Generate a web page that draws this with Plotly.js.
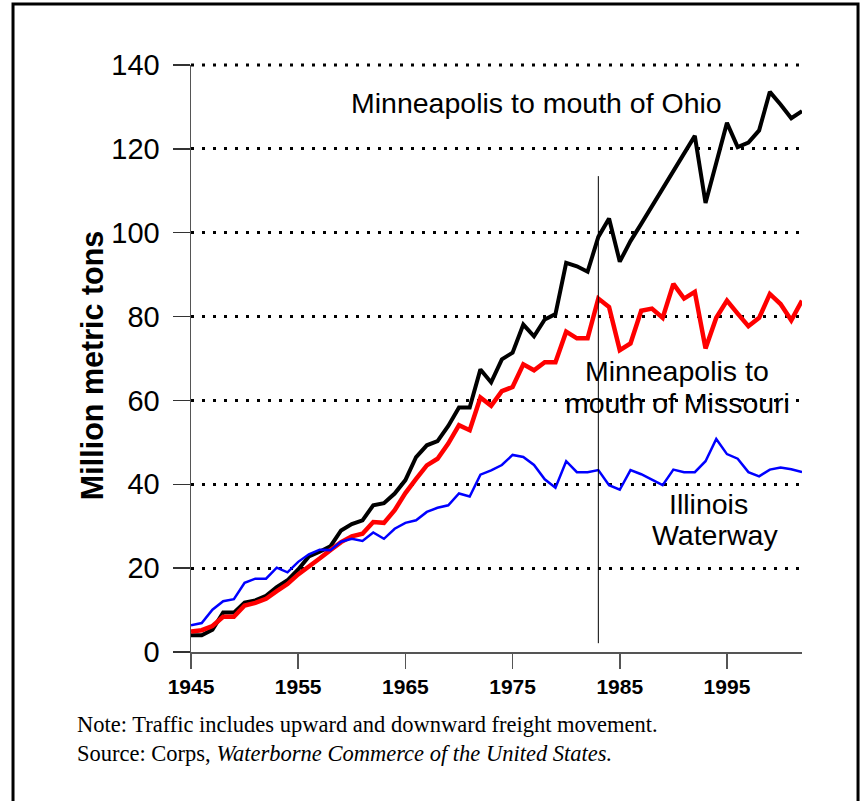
<!DOCTYPE html>
<html>
<head>
<meta charset="utf-8">
<script src="https://cdn.plot.ly/plotly-3.0.1.min.js"></script>
<style>
html,body{margin:0;padding:0;background:#fff;}
#chart{width:862px;height:801px;}
</style>
</head>
<body>
<div id="chart"></div>
<script>
const years = [1945,1946,1947,1948,1949,1950,1951,1952,1953,1954,1955,1956,1957,1958,1959,1960,1961,1962,1963,1964,1965,1966,1967,1968,1969,1970,1971,1972,1973,1974,1975,1976,1977,1978,1979,1980,1981,1982,1983,1984,1985,1986,1987,1988,1989,1990,1991,1992,1993,1994,1995,1996,1997,1998,1999,2000,2001,2002];

const ohio = [4.0,4.0,5.3,9.4,9.4,11.8,12.3,13.4,15.5,17.1,19.7,22.8,23.9,25.2,29.0,30.5,31.4,35.0,35.5,37.8,41.0,46.5,49.3,50.3,53.9,58.3,58.3,67.4,64.3,69.8,71.4,78.1,75.3,79.3,80.6,92.8,92.0,90.7,99.0,103.4,93.1,98.0,102.1,106.3,110.3,114.5,118.5,123.1,107.1,116.6,126.2,120.4,121.5,124.4,133.6,130.6,127.3,129.0];

const missouri = [4.9,5.2,6.2,8.4,8.4,11.1,11.7,12.7,14.5,16.2,18.5,20.3,22.3,24.3,26.2,27.6,28.2,31.0,30.8,33.8,37.9,41.3,44.5,46.1,49.7,54.1,52.9,60.7,58.7,62.2,63.2,68.6,67.2,69.1,69.1,76.4,74.8,74.8,84.3,82.3,72.0,73.6,81.4,81.9,79.7,87.8,84.3,85.9,72.4,79.7,83.8,80.7,77.7,79.7,85.4,83.0,79.1,83.8];

const illinois = [6.4,6.9,10.1,12.1,12.6,16.5,17.5,17.5,20.1,19.0,21.5,23.3,24.4,24.3,26.3,27.0,26.5,28.5,27.0,29.4,30.8,31.4,33.4,34.4,35.0,37.8,37.1,42.3,43.3,44.6,47.0,46.5,44.6,41.2,39.2,45.5,42.9,42.9,43.4,39.8,38.7,43.4,42.4,41.0,39.8,43.5,42.9,42.9,45.5,50.8,47.2,46.1,42.9,41.9,43.5,44.0,43.6,42.9];

const xTicks = [1945,1955,1965,1975,1985,1995];
const yTicks = [0,20,40,60,80,100,120,140];
const gridVals = [20,40,60,80,100,120];
const markerYear = 1983;

const sans = "Liberation Sans, Arial, sans-serif";
const serif = "Liberation Serif, Times New Roman, serif";

const traces = [
  {x: years, y: ohio, type: 'scatter', mode: 'lines', line: {color: '#000000', width: 4}, hoverinfo: 'skip'},
  {x: years, y: missouri, type: 'scatter', mode: 'lines', line: {color: '#ff0000', width: 4.5}, hoverinfo: 'skip'},
  {x: years, y: illinois, type: 'scatter', mode: 'lines', line: {color: '#0000ff', width: 2.5}, hoverinfo: 'skip'},
  {x: [1945], y: [null], yaxis: 'y2', type: 'scatter', mode: 'lines', hoverinfo: 'skip'}
];

const lbl = (x, y, text) => ({xref: 'x', yref: 'y', x: x, y: y, text: text, showarrow: false,
  xanchor: 'center', yanchor: 'middle', font: {family: sans, size: 28.5, color: '#000'}});

const layout = {
  width: 862, height: 801,
  margin: {l: 191, r: 60, t: 65, b: 149},
  paper_bgcolor: '#ffffff', plot_bgcolor: 'rgba(0,0,0,0)',
  showlegend: false,
  font: {family: sans, color: '#000'},
  xaxis: {
    range: [1945, 2002], tickvals: xTicks, ticktext: xTicks.map(String),
    showgrid: false, zeroline: false,
    showline: true, linecolor: '#555', linewidth: 1.5,
    ticks: 'outside', ticklen: 15, tickwidth: 1.5, tickcolor: '#555',
    tickfont: {family: sans, size: 21, weight: 'bold', color: '#000'},
    fixedrange: true
  },
  yaxis: {
    range: [0, 140], tickvals: yTicks, ticktext: yTicks.map(String),
    showgrid: false, zeroline: false,
    showline: true, linecolor: '#555', linewidth: 1.5,
    ticks: 'outside', ticklen: 17, tickwidth: 1.5, tickcolor: '#333',
    ticklabelstandoff: 7,
    tickfont: {family: sans, size: 29, color: '#000'},
    fixedrange: true
  },
  yaxis2: {
    overlaying: 'y', range: [0, 140], tickvals: gridVals,
    showgrid: true, gridcolor: '#000', gridwidth: 3, griddash: '3px,8px',
    showticklabels: false, ticks: '', zeroline: false, showline: false,
    fixedrange: true, layer: 'below traces'
  },
  shapes: [
    {type: 'line', xref: 'paper', yref: 'paper', x0: 0, x1: 1, y0: 1, y1: 1, layer: 'below',
     line: {color: '#000', width: 3, dash: '3px,8px'}},
    {type: 'line', xref: 'x', yref: 'y', x0: markerYear, x1: markerYear, y0: 2.1, y1: 113.5,
     line: {color: '#000', width: 1}},
    {type: 'rect', xref: 'paper', yref: 'paper', x0: -0.2913, x1: 1.0917, y0: -0.33, y1: 1.1039,
     line: {color: '#000', width: 3}}
  ],
  annotations: [
    lbl(1977.2, 131.0, 'Minneapolis to mouth of Ohio'),
    lbl(1990.35, 67.0, 'Minneapolis to'),
    lbl(1990.35, 59.4, 'mouth of Missouri'),
    lbl(1993.3, 35.3, 'Illinois'),
    lbl(1993.9, 27.8, 'Waterway'),
    {xref: 'paper', yref: 'paper', x: -0.162, y: 0.487, text: 'Million metric tons', showarrow: false,
     textangle: -90, xanchor: 'center', yanchor: 'middle',
     font: {family: sans, size: 30.5, weight: 'bold', color: '#000'}},
    {xref: 'paper', yref: 'paper', x: -0.19, y: -0.1474,
     text: 'Note: Traffic includes upward and downward freight movement.<br>Source: Corps, <i>Waterborne Commerce of the United States.</i>',
     showarrow: false, xanchor: 'left', yanchor: 'middle', align: 'left',
     font: {family: serif, size: 22.5, color: '#000'}}
  ]
};

Plotly.newPlot('chart', traces, layout, {displayModeBar: false, staticPlot: true});
</script>
</body>
</html>
